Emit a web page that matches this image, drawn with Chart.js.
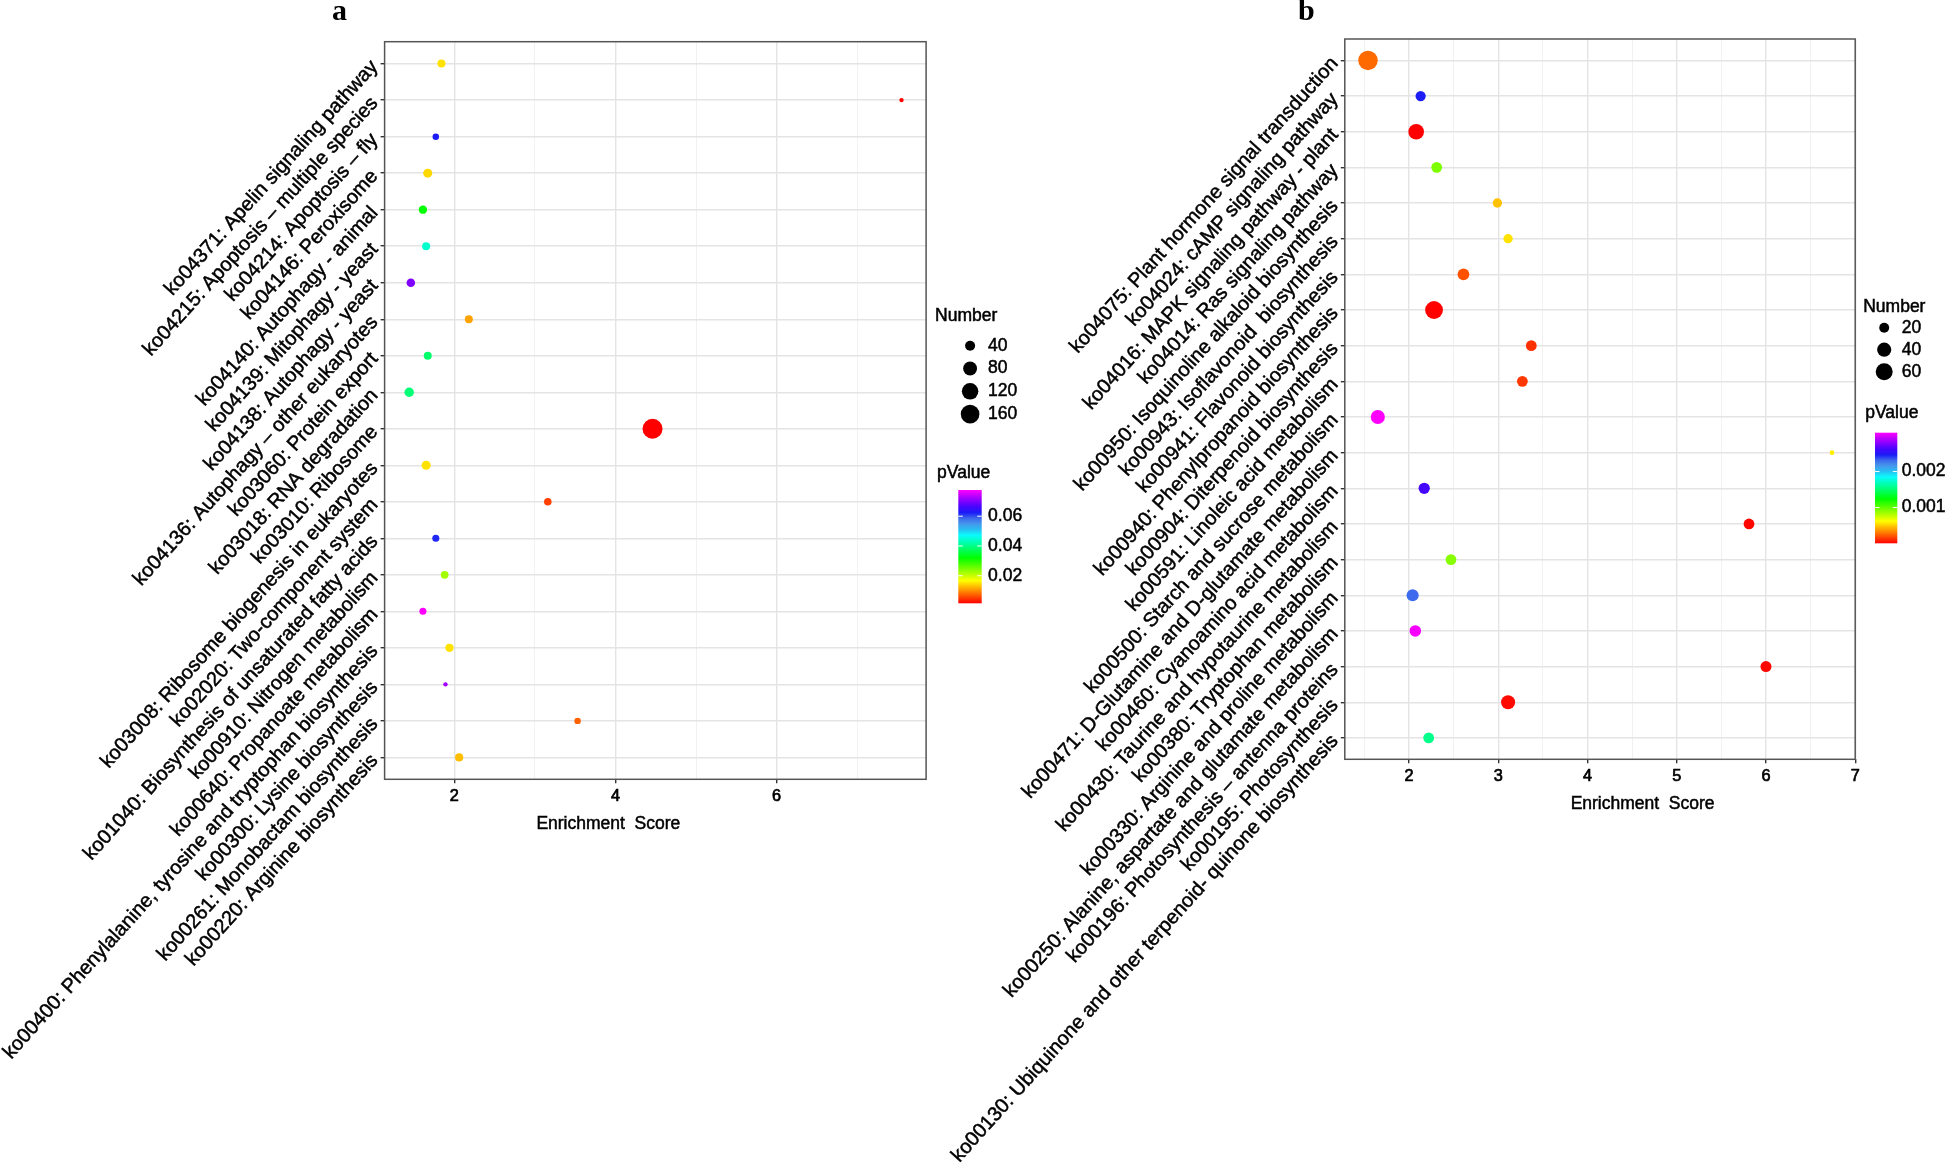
<!DOCTYPE html>
<html>
<head>
<meta charset="utf-8">
<script src="https://cdn.jsdelivr.net/npm/chart.js"></script>
<style>
  html, body { margin: 0; padding: 0; background: #fff; }
  #wrap { position: relative; width: 1946px; height: 1171px; overflow: hidden; }
  #chart-a { position: absolute; left: 0; top: 0; }
  #chart-b { position: absolute; left: 930px; top: 0; }
  .tag { position: absolute; font: bold 30px "Liberation Serif", "Times New Roman", serif; line-height: 30px; }
</style>
</head>
<body>
<div id="wrap">
  <canvas id="chart-a" width="1040" height="1171"></canvas>
  <canvas id="chart-b" width="1016" height="1171"></canvas>
  <div class="tag" style="left:332px;top:-5px">a</div>
  <div class="tag" style="left:1298px;top:-5px">b</div>
</div>
<script>
  // ---- panel a data (top row first) ----
  const pathwaysA = [
    "ko04371: Apelin signaling pathway",
    "ko04215: Apoptosis \u2013 multiple species",
    "ko04214: Apoptosis \u2013 fly",
    "ko04146: Peroxisome",
    "ko04140: Autophagy - animal",
    "ko04139: Mitophagy - yeast",
    "ko04138: Autophagy - yeast",
    "ko04136: Autophagy \u2013 other eukaryotes",
    "ko03060: Protein export",
    "ko03018: RNA degradation",
    "ko03010: Ribosome",
    "ko03008: Ribosome biogenesis in eukaryotes",
    "ko02020: Two-component system",
    "ko01040: Biosynthesis of unsaturated fatty acids",
    "ko00910: Nitrogen metabolism",
    "ko00640: Propanoate metabolism",
    "ko00400: Phenylalanine, tyrosine and tryptophan biosynthesis",
    "ko00300: Lysine biosynthesis",
    "ko00261: Monobactam biosynthesis",
    "ko00220: Arginine biosynthesis"
  ];
  const scoreA = [1.84, 7.55, 1.77, 1.67, 1.61, 1.65, 1.46, 2.18, 1.67, 1.44,
                  4.46, 1.65, 3.16, 1.77, 1.88, 1.61, 1.94, 1.89, 3.53, 2.06];
  const numberA = [27, 18, 21, 33, 29, 27, 30, 27, 27, 36,
                   187, 33, 25, 23, 26, 23, 28, 18, 21, 28];
  const pvalueA = [0.0150, 0.0017, 0.0624, 0.0144, 0.0319, 0.0441, 0.0700, 0.0112, 0.0383, 0.0390,
                   0.0015, 0.0150, 0.0053, 0.0619, 0.0223, 0.0776, 0.0150, 0.0720, 0.0073, 0.0129];
  const xTicksA = [2, 4, 6];
  const sizeBreaksA = [40, 80, 120, 160];
  const pBreaksA = [0.02, 0.04, 0.06];

  // ---- panel b data ----
  const pathwaysB = [
    "ko04075: Plant hormone signal transduction",
    "ko04024: cAMP signaling pathway",
    "ko04016: MAPK signaling pathway - plant",
    "ko04014: Ras signaling pathway",
    "ko00950: Isoquinoline alkaloid biosynthesis",
    "ko00943: Isoflavonoid  biosynthesis",
    "ko00941: Flavonoid biosynthesis",
    "ko00940: Phenylpropanoid biosynthesis",
    "ko00904: Diterpenoid biosynthesis",
    "ko00591: Linoleic acid metabolism",
    "ko00500: Starch and sucrose metabolism",
    "ko00471: D-Glutamine and D-glutamate metabolism",
    "ko00460: Cyanoamino acid metabolism",
    "ko00430: Taurine and hypotaurine metabolism",
    "ko00380: Tryptophan metabolism",
    "ko00330: Arginine and proline metabolism",
    "ko00250: Alanine, aspartate and glutamate metabolism",
    "ko00196: Photosynthesis \u2013 antenna proteins",
    "ko00195: Photosynthesis",
    "ko00130: Ubiquinone and other terpenoid- quinone biosynthesis"
  ];
  const scoreB = [1.54, 2.13, 2.08, 2.31, 2.99, 3.11, 2.61, 2.28, 3.37, 3.27,
                  1.65, 6.74, 2.17, 5.81, 2.47, 2.04, 2.07, 6.00, 3.11, 2.22];
  const numberB = [82, 21, 50, 23, 18, 18, 27, 67, 23, 23,
                   40, 11, 25, 23, 23, 29, 26, 24, 39, 23];
  const pvalueB = [0.00026, 0.00246, 0.000005, 0.00093, 0.00047, 0.00055, 0.00020, 0.00001, 0.00012, 0.00014,
                   0.00308, 0.00058, 0.00262, 0.00002, 0.00091, 0.00231, 0.00306, 0.00002, 0.00003, 0.00157];
  const xTicksB = [2, 3, 4, 5, 6, 7];
  const sizeBreaksB = [20, 40, 60];
  const pBreaksB = [0.001, 0.002];

  const FONT = '"Liberation Sans", Arial, sans-serif';

  // rainbow from red (low p) to magenta (high p); the blue part is a bit lighter, like the original ramp
  function hueColor(h) {
    const bump = Math.exp(-Math.pow((h - 215) / 25, 2));
    return "hsl(" + h + ", " + (100 - 20 * bump) + "%, " + (50 + 10 * bump) + "%)";
  }
  function hue(p, lo, hi) {
    return hueColor(300 * (p - lo) / (hi - lo));
  }

  function sizer(nums, rMin, rMax) {
    const lo = Math.min(...nums), hi = Math.max(...nums);
    return n => rMin + (rMax - rMin) * Math.sqrt(Math.max(0, (n - lo) / (hi - lo)));
  }

  function text(ctx, s, x, y) {
    ctx.strokeText(s, x, y);
    ctx.fillText(s, x, y);
  }

  // ggplot-like legends, panel border and x title
  const ggLegend = {
    id: "ggLegend",
    afterDraw(chart, args, o) {
      const { ctx, chartArea: a } = chart;
      ctx.save();
      ctx.strokeStyle = "#555";
      ctx.lineWidth = 1.5;
      ctx.strokeRect(a.left, a.top, a.right - a.left, a.bottom - a.top);

      ctx.fillStyle = "#000";
      ctx.strokeStyle = "#000";
      ctx.lineWidth = 0.5;
      ctx.font = "17.5px " + FONT;
      ctx.textBaseline = "middle";
      ctx.textAlign = "center";
      text(ctx, "Enrichment  Score", (a.left + a.right) / 2 + o.titleShift, a.bottom + 44.7);

      // size legend
      ctx.textAlign = "left";
      text(ctx, "Number", a.right + o.numX, a.top + o.numY);
      o.sizeBreaks.forEach((n, i) => {
        const y = a.top + o.dotY + i * o.dotStep;
        ctx.beginPath();
        ctx.arc(a.right + o.dotX, y, o.size(n), 0, Math.PI * 2);
        ctx.fill();
        text(ctx, String(n), a.right + o.labX, y);
      });

      // colour bar
      text(ctx, "pValue", a.right + o.numX + 2, a.top + o.pY);
      const bx = a.right + o.barX, by = a.top + o.barY;
      const g = ctx.createLinearGradient(0, by + o.barH, 0, by);
      for (let i = 0; i <= 20; i++) g.addColorStop(i / 20, hueColor(15 * i));
      ctx.fillStyle = g;
      ctx.fillRect(bx, by, o.barW, o.barH);
      ctx.fillStyle = "#000";
      o.pBreaks.forEach(p => {
        const y = by + o.barH - (p - o.pLo) / (o.pHi - o.pLo) * o.barH;
        ctx.save();
        ctx.strokeStyle = "#fff";
        ctx.lineWidth = 1;
        ctx.beginPath();
        ctx.moveTo(bx, y); ctx.lineTo(bx + 4.5, y);
        ctx.moveTo(bx + o.barW - 4.5, y); ctx.lineTo(bx + o.barW, y);
        ctx.stroke();
        ctx.restore();
        text(ctx, String(p), a.right + o.labX, y);
      });
      ctx.restore();
    }
  };

  function makePanel(id, P) {
    const size = sizer(P.number, P.rMin, P.rMax);
    const pLo = Math.min(...P.pvalue), pHi = Math.max(...P.pvalue);
    const xLo = Math.min(...P.score), xHi = Math.max(...P.score);
    const pad = (xHi - xLo) * 0.05;
    const step = P.xTicks[1] - P.xTicks[0];
    const minors = P.xTicks.map(v => v + step / 2).concat([P.xTicks[0] - step / 2]);
    const allX = P.xTicks.concat(minors).sort((p, q) => p - q);
    const isMajor = v => P.xTicks.includes(v);

    return new Chart(document.getElementById(id), {
      type: "scatter",
      data: {
        datasets: [{
          data: P.score.map((x, i) => ({ x: x, y: i })),
          pointRadius: c => size(P.number[c.dataIndex]),
          pointBackgroundColor: c => hue(P.pvalue[c.dataIndex], pLo, pHi),
          pointBorderWidth: 0
        }]
      },
      options: {
        responsive: false,
        animation: false,
        events: [],
        layout: { padding: { left: 0, top: P.top, right: P.right, bottom: P.bottom } },
        plugins: {
          legend: { display: false },
          tooltip: { enabled: false },
          ggLegend: Object.assign({ size: size, pLo: pLo, pHi: pHi }, P.legend)
        },
        scales: {
          x: {
            type: "linear",
            min: xLo - pad,
            max: xHi + pad,
            afterBuildTicks: s => { s.ticks = allX.filter(v => v >= s.min && v <= s.max).map(v => ({ value: v })); },
            afterFit: s => { s.height = 60; },
            border: { display: false },
            grid: {
              color: c => isMajor(c.tick.value) ? "#E4E4E4" : "#EFEFEF",
              lineWidth: c => isMajor(c.tick.value) ? 1.4 : 0.9,
              tickColor: c => isMajor(c.tick.value) ? "#333" : "rgba(0,0,0,0)",
              tickLength: 4
            },
            ticks: {
              autoSkip: false,
              maxRotation: 0,
              padding: 3,
              color: "#000",
              textStrokeColor: "#000",
              textStrokeWidth: 0.7,
              font: { family: FONT, size: 16.3 },
              callback: v => isMajor(v) ? String(v) : ""
            }
          },
          y: {
            type: "linear",
            reverse: true,
            min: -0.6,
            max: P.labels.length - 0.4,
            afterBuildTicks: s => { s.ticks = P.labels.map((_, i) => ({ value: i })); },
            afterFit: s => { s.width = P.yWidth; },
            border: { display: false },
            grid: { color: "#E4E4E4", lineWidth: 1.4, tickColor: "#333", tickLength: 4 },
            ticks: {
              autoSkip: false,
              minRotation: 48,
              maxRotation: 48,
              padding: 6,
              color: "#000",
              textStrokeColor: "#000",
              textStrokeWidth: 0.5,
              font: { family: FONT, size: 20 },
              callback: v => P.labels[v]
            }
          }
        }
      },
      plugins: [ggLegend]
    });
  }

  makePanel("chart-a", {
    labels: pathwaysA, score: scoreA, number: numberA, pvalue: pvalueA, xTicks: xTicksA,
    rMin: 2.2, rMax: 10,
    top: 41.7, right: 1040 - 926.1, bottom: 1171 - 779.3 - 60, yWidth: 384.6,
    legend: {
      titleShift: -47, sizeBreaks: sizeBreaksA, pBreaks: pBreaksA,
      numX: 9, numY: 274.3, dotX: 44, dotY: 304, dotStep: 22.8, labX: 62,
      pY: 431.3, barX: 32.2, barY: 448.3, barW: 23.4, barH: 113.3
    }
  });

  makePanel("chart-b", {
    labels: pathwaysB, score: scoreB, number: numberB, pvalue: pvalueB, xTicks: xTicksB,
    rMin: 2.35, rMax: 9.75,
    top: 39, right: 1016 - (1855.2 - 930), bottom: 1171 - 759.3 - 60, yWidth: 1344.8 - 930,
    legend: {
      titleShift: 42.6, sizeBreaks: sizeBreaksB, pBreaks: pBreaksB,
      numX: 8, numY: 268.3, dotX: 29, dotY: 288.7, dotStep: 22, labX: 46.5,
      pY: 374.3, barX: 19.8, barY: 393.7, barW: 22.3, barH: 110.6
    }
  });
</script>
</body>
</html>
